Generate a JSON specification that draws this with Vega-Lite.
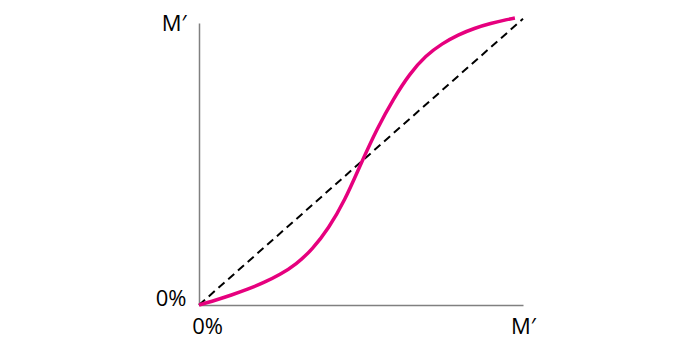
{
  "$schema": "https://vega.github.io/schema/vega-lite/v6.json",
  "width": 324,
  "height": 282,
  "autosize": {"type": "none"},
  "padding": {"left": 199, "top": 23, "right": 173, "bottom": 53},
  "background": "white",
  "config": {"view": {"stroke": null}, "font": "Open Sans"},
  "datasets": {
    "curve": [
      {"x": 0, "y": 0},
      {"x": 5, "y": 1.7},
      {"x": 10, "y": 3.55},
      {"x": 15, "y": 5.6},
      {"x": 20, "y": 8.0},
      {"x": 25, "y": 10.9},
      {"x": 30, "y": 14.7},
      {"x": 35, "y": 20.1},
      {"x": 40, "y": 27.6},
      {"x": 45, "y": 37.6},
      {"x": 50, "y": 50.1},
      {"x": 55, "y": 62.35},
      {"x": 60, "y": 72.85},
      {"x": 65, "y": 81.6},
      {"x": 70, "y": 88.1},
      {"x": 75, "y": 92.5},
      {"x": 80, "y": 95.7},
      {"x": 85, "y": 98.05},
      {"x": 90, "y": 99.8},
      {"x": 95, "y": 101.2},
      {"x": 97.5, "y": 101.8}
    ],
    "diag": [
      {"x": 0, "y": 0},
      {"x": 100, "y": 101.5}
    ]
  },
  "layer": [
    {
      "data": {"name": "diag"},
      "mark": {"type": "line", "color": "black", "strokeWidth": 2, "strokeDash": [8, 5], "clip": false},
      "encoding": {
        "x": {
          "field": "x", "type": "quantitative",
          "scale": {"domain": [0, 100], "nice": false, "zero": true},
          "axis": {
            "values": [0, 100],
            "title": null,
            "grid": false,
            "ticks": false,
            "domainColor": "#808080",
            "domainWidth": 1.5,
            "labelExpr": "datum.value == 0 ? '0%' : 'M′'",
            "labelFont": "Open Sans",
            "labelFontSize": 22,
            "labelColor": "black",
            "labelPadding": 11,
            "labelBaseline": "top",
            "labelFlush": false,
            "labelOverlap": false,
            "labelOffset": {"condition": {"test": "datum.value == 0", "value": 8}, "value": 0}
          }
        },
        "y": {
          "field": "y", "type": "quantitative",
          "scale": {"domain": [0, 100], "nice": false, "zero": true},
          "axis": {
            "values": [0, 100],
            "title": null,
            "grid": false,
            "ticks": false,
            "domainColor": "#808080",
            "domainWidth": 1.5,
            "labelExpr": "datum.value == 0 ? '0%' : 'M′'",
            "labelFont": "Open Sans",
            "labelFontSize": 22,
            "labelColor": "black",
            "labelPadding": 13,
            "labelFlush": false,
            "labelOverlap": false,
            "labelBaseline": {"condition": {"test": "datum.value == 0", "value": "alphabetic"}, "value": "middle"}
          }
        }
      }
    },
    {
      "data": {"name": "curve"},
      "mark": {"type": "line", "color": "#E6007E", "strokeWidth": 3.5, "interpolate": "natural", "clip": false},
      "encoding": {
        "x": {"field": "x", "type": "quantitative"},
        "y": {"field": "y", "type": "quantitative"}
      }
    }
  ]
}
